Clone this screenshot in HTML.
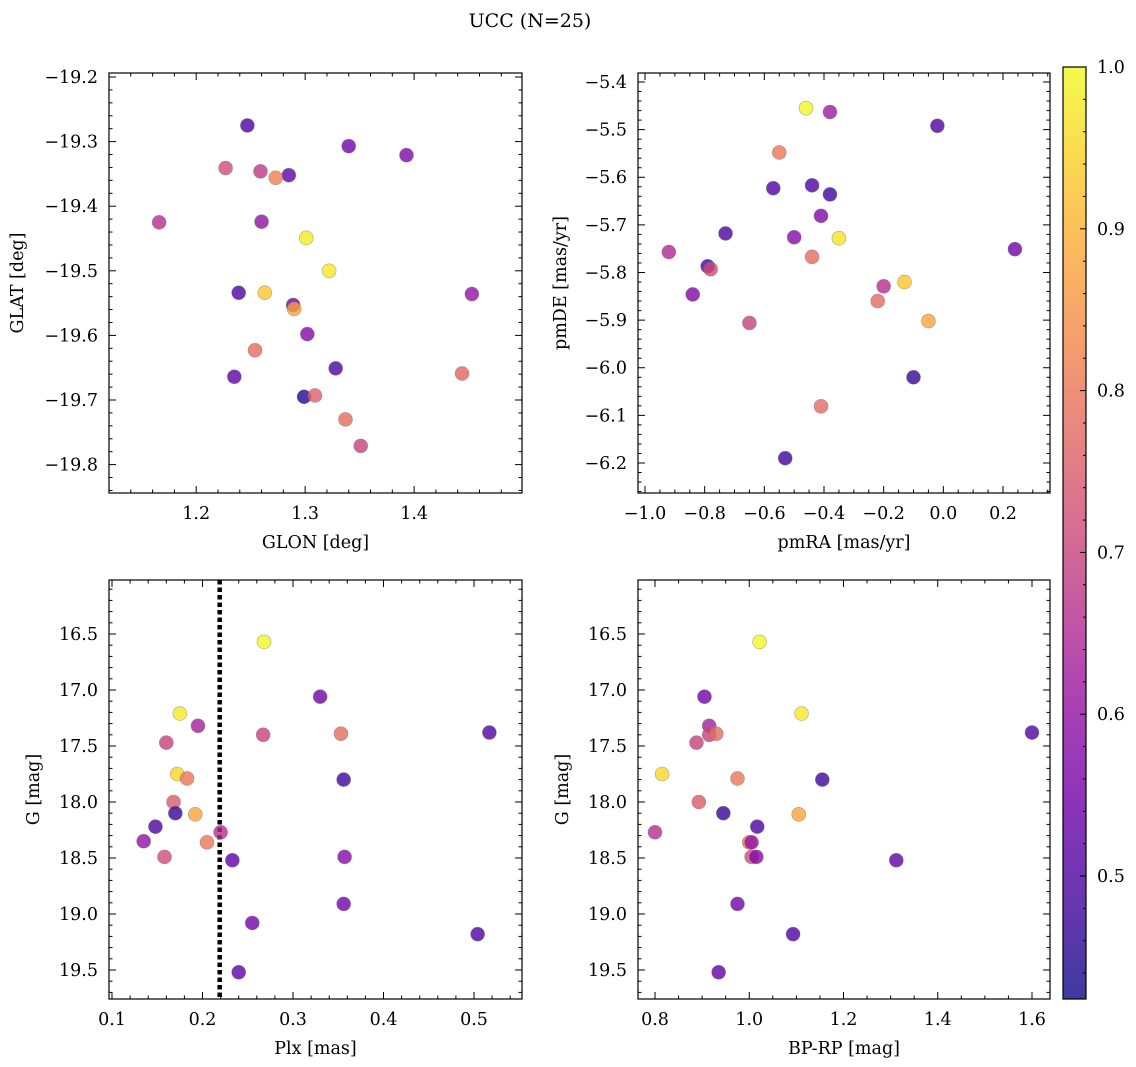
<!DOCTYPE html>
<html><head><meta charset="utf-8"><style>
body{margin:0;background:#fff}
svg{display:block;font-family:"DejaVu Serif","Liberation Serif",serif}
</style></head><body>
<svg id="chart" width="1136" height="1067" viewBox="0 0 1136 1067" xmlns="http://www.w3.org/2000/svg">
<rect width="1136" height="1067" fill="#fff"/>
<text x="530" y="27" font-size="19" text-anchor="middle">UCC (N=25)</text>
</svg>
<script>
const glon=[1.247,1.340,1.393,1.227,1.259,1.285,1.273,1.166,1.260,1.301,1.322,1.239,1.263,1.289,1.290,1.453,1.302,1.254,1.328,1.235,1.444,1.299,1.309,1.337,1.351];
const glat=[-19.275,-19.307,-19.321,-19.341,-19.346,-19.352,-19.356,-19.425,-19.424,-19.449,-19.500,-19.534,-19.534,-19.553,-19.559,-19.536,-19.598,-19.623,-19.651,-19.664,-19.659,-19.695,-19.693,-19.730,-19.771];
const probTL=[0.5,0.55,0.57,0.72,0.68,0.52,0.82,0.66,0.6,0.98,0.98,0.5,0.93,0.55,0.88,0.6,0.58,0.78,0.5,0.52,0.77,0.45,0.76,0.78,0.7];
const pmra=[-0.46,-0.38,-0.02,-0.55,-0.57,-0.44,-0.38,-0.41,-0.73,-0.50,-0.35,-0.92,0.24,-0.44,-0.79,-0.78,-0.2,-0.13,-0.84,-0.22,-0.05,-0.65,-0.1,-0.41,-0.53];
const pmde=[-5.455,-5.463,-5.492,-5.548,-5.623,-5.617,-5.636,-5.681,-5.718,-5.726,-5.728,-5.757,-5.751,-5.767,-5.787,-5.793,-5.829,-5.820,-5.846,-5.860,-5.902,-5.906,-6.020,-6.081,-6.190];
const probTR=[1.0,0.62,0.5,0.8,0.5,0.5,0.48,0.57,0.5,0.58,0.97,0.65,0.55,0.78,0.48,0.72,0.66,0.93,0.57,0.78,0.88,0.7,0.47,0.78,0.48];
const plx=[0.268,0.330,0.175,0.195,0.267,0.353,0.517,0.160,0.172,0.183,0.356,0.168,0.192,0.170,0.148,0.220,0.135,0.205,0.158,0.233,0.357,0.356,0.255,0.504,0.240];
const gmagBL=[16.57,17.06,17.21,17.32,17.40,17.39,17.38,17.47,17.75,17.79,17.80,18.00,18.11,18.10,18.22,18.27,18.35,18.36,18.49,18.52,18.49,18.91,19.08,19.18,19.52];
const probBL=[1.0,0.55,0.98,0.63,0.7,0.78,0.5,0.7,0.95,0.8,0.48,0.75,0.88,0.47,0.5,0.66,0.6,0.8,0.72,0.52,0.58,0.55,0.55,0.5,0.52];
const bprp=[1.022,0.905,1.111,0.915,0.915,0.930,1.600,0.888,0.815,0.975,1.155,0.893,1.105,0.945,1.017,0.800,1.312,1.000,1.005,1.005,1.015,0.975,1.093,0.935];
const gmagBR=[16.57,17.06,17.21,17.32,17.40,17.39,17.38,17.47,17.75,17.79,17.80,18.00,18.11,18.10,18.22,18.27,18.52,18.36,18.36,18.49,18.49,18.91,19.18,19.52];
const probBR=[1.0,0.55,0.98,0.63,0.7,0.78,0.5,0.7,0.95,0.8,0.48,0.75,0.88,0.47,0.5,0.66,0.52,0.8,0.6,0.72,0.58,0.55,0.5,0.52];
const plxLine=0.219;
const cbTicks=[0.5,0.6,0.7,0.8,0.9,1.0];
const cMin=0.424,cMax=1.0;

const NS="http://www.w3.org/2000/svg";
const svg=document.getElementById('chart');
function el(t,a,p){const e=document.createElementNS(NS,t);for(const k in a)e.setAttribute(k,a[k]);(p||svg).appendChild(e);return e;}
const stops=["#0d0887","#41049d","#6a00a8","#8f0da4","#b12a90","#cc4778","#e16462","#f2844b","#fca636","#fcce25","#f0f921"];
function hex(h){return [1,3,5].map(i=>parseInt(h.substr(i,2),16));}
function plasma(v){let t=(v-cMin)/(cMax-cMin);t=Math.max(0,Math.min(1,t));const f=t*10,i=Math.min(9,Math.floor(f)),r=f-i;const a=hex(stops[i]),b=hex(stops[i+1]);return 'rgb('+a.map((x,k)=>Math.round(x+(b[k]-x)*r)).join(',')+')';}
function lin(d0,d1,p0,p1){return v=>p0+(v-d0)/(d1-d0)*(p1-p0);}
function fmt(v,dec){let s=v.toFixed(dec);if(v<0)s='\u2212'+s.slice(1);return s;}
const FS=17.5;
function panel(o){
  const g=el('g',{});
  
  
  const {L,R,T,B}=o;
  const sx=lin(o.x0,o.x1,L,R), sy=lin(o.y0,o.y1,T,B);
  const xmin=Math.min(o.x0,o.x1),xmax=Math.max(o.x0,o.x1),ymin=Math.min(o.y0,o.y1),ymax=Math.max(o.y0,o.y1);
  for(let k=Math.ceil(xmin/o.xm-1e-6);k*o.xm<=xmax+1e-9;k++){const v=k*o.xm,x=sx(v);const maj=Math.abs(v/o.xM-Math.round(v/o.xM))<1e-6;const len=maj?7:3.5;
    el('line',{x1:x,x2:x,y1:B,y2:B-len,stroke:'#000','stroke-width':1},g);el('line',{x1:x,x2:x,y1:T,y2:T+len,stroke:'#000','stroke-width':1},g);
    if(maj){const t=el('text',{x:x,y:B+26,'font-size':FS,'text-anchor':'middle'},g);t.textContent=fmt(v,o.xd);}}
  for(let k=Math.ceil(ymin/o.ym-1e-6);k*o.ym<=ymax+1e-9;k++){const v=k*o.ym,y=sy(v);const maj=Math.abs(v/o.yM-Math.round(v/o.yM))<1e-6;const len=maj?7:3.5;
    el('line',{x1:L,x2:L+len,y1:y,y2:y,stroke:'#000','stroke-width':1},g);el('line',{x1:R,x2:R-len,y1:y,y2:y,stroke:'#000','stroke-width':1},g);
    if(maj){const t=el('text',{x:L-11,y:y+6,'font-size':FS,'text-anchor':'end'},g);t.textContent=fmt(v,o.yd);}}
  if(o.vline!==undefined){const l=el('line',{x1:sx(o.vline),x2:sx(o.vline),y1:T,y2:B,stroke:'#000','stroke-width':4.5,'stroke-dasharray':'4.5 3'},g);
    }
  o.xs.forEach((xv,i)=>{const c=el('circle',{cx:sx(xv),cy:sy(o.ys[i]),r:7,fill:plasma(o.c[i]),'fill-opacity':0.8,stroke:'#777','stroke-width':0.6,'stroke-opacity':0.6},g);
    });
  const f=el('rect',{x:L,y:T,width:R-L,height:B-T,fill:'none',stroke:'#000','stroke-width':1.2},g);
  
  const xl=el('text',{x:(L+R)/2,y:B+55,'font-size':FS,'text-anchor':'middle'},g);xl.textContent=o.xlab;
  
  const yl=el('text',{x:0,y:0,'font-size':FS,'text-anchor':'middle',transform:`translate(${o.ylx},${(T+B)/2}) rotate(-90)`},g);yl.textContent=o.ylab;
  
}
panel({name:'glon-glat-panel',L:109,R:522,T:73,B:493,x0:1.12,x1:1.499,y0:-19.2+4/646,y1:-19.2-416/646,xm:0.02,xM:0.1,xd:1,ym:0.02,yM:0.1,yd:1,xs:glon,ys:glat,c:probTL,xlab:'GLON [deg]',ylab:'GLAT [deg]',ylx:23});
panel({name:'pm-panel',L:638,R:1050,T:73,B:493,x0:-1.0-7/298.3,x1:0.2+47/298.3,y0:-5.4+9/476,y1:-6.2-30/476,xm:0.05,xM:0.2,xd:1,ym:0.02,yM:0.1,yd:1,xs:pmra,ys:pmde,c:probTR,xlab:'pmRA [mas/yr]',ylab:'pmDE [mas/yr]',ylx:566});
panel({name:'plx-g-panel',L:109,R:522,T:580,B:999,x0:0.1-3/905,x1:0.5+48/905,y0:16.5-54/112,y1:19.5+29/112,xm:0.02,xM:0.1,xd:1,ym:0.1,yM:0.5,yd:1,xs:plx,ys:gmagBL,c:probBL,xlab:'Plx [mas]',ylab:'G [mag]',ylx:39,vline:plxLine});
panel({name:'bprp-g-panel',L:638,R:1050,T:580,B:999,x0:0.8-17/471,x1:1.6+18/471,y0:16.5-54/112,y1:19.5+29/112,xm:0.05,xM:0.2,xd:1,ym:0.1,yM:0.5,yd:1,xs:bprp,ys:gmagBR,c:probBR,xlab:'BP-RP [mag]',ylab:'G [mag]',ylx:568});
const cb=el('g',{});
const defs=el('defs',{},cb);const gr=el('linearGradient',{id:'pg',x1:0,y1:1,x2:0,y2:0},defs);
for(let i=0;i<=20;i++){el('stop',{offset:i/20,'stop-color':plasma(cMin+(cMax-cMin)*i/20),'stop-opacity':0.8},gr);}
const cT=67,cB=999,cL=1063,cR=1086;const cy=lin(cMin,cMax,cB,cT);
el('rect',{x:cL,y:cT,width:cR-cL,height:cB-cT,fill:'url(#pg)',stroke:'#000','stroke-width':1.2},cb);
for(let k=Math.ceil(cMin/0.02);k*0.02<=cMax+1e-9;k++){const v=k*0.02,y=cy(v);const maj=Math.abs(v*10-Math.round(v*10))<1e-6;el('line',{x1:cR,x2:cR-(maj?6:3),y1:y,y2:y,stroke:'#000','stroke-width':1},cb);}
cbTicks.forEach(v=>{const t=el('text',{x:1097,y:cy(v)+6,'font-size':FS},cb);t.textContent=v.toFixed(1);});
</script>
</body></html>
